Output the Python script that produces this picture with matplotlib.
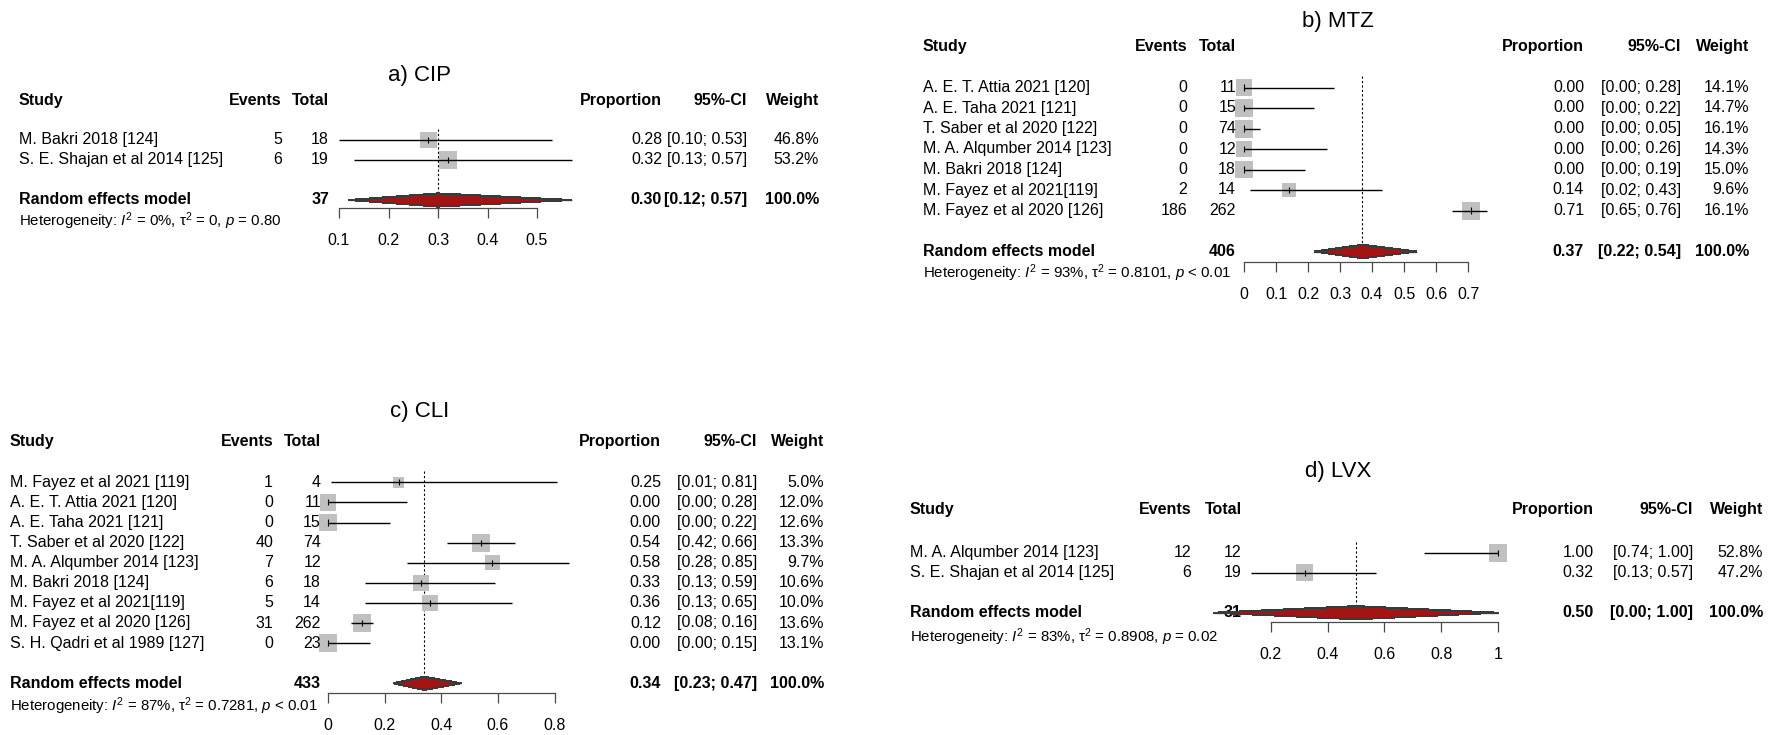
import numpy as np
import matplotlib
matplotlib.use("Agg")
import matplotlib.pyplot as plt
from matplotlib.patches import Polygon
from matplotlib.transforms import blended_transform_factory

# ---- data ----

# a) CIP
cip_studies = ["M. Bakri 2018 [124]", "S. E. Shajan et al 2014 [125]"]
cip_events = [5, 6]
cip_total = [18, 19]
cip_prop = [0.28, 0.32]
cip_lo = [0.10, 0.13]
cip_hi = [0.53, 0.57]
cip_weight = [46.8, 53.2]
cip_pooled = [37, 0.30, 0.12, 0.57]          # total, est, lo, hi
cip_het = ["0%", "0", "= 0.80"]              # I2, tau2, p

# b) MTZ
mtz_studies = ["A. E. T. Attia 2021 [120]", "A. E. Taha 2021 [121]",
               "T. Saber et al 2020 [122]", "M. A. Alqumber 2014 [123]",
               "M. Bakri 2018 [124]", "M. Fayez et al 2021[119]",
               "M. Fayez et al 2020 [126]"]
mtz_events = [0, 0, 0, 0, 0, 2, 186]
mtz_total = [11, 15, 74, 12, 18, 14, 262]
mtz_prop = [0.00, 0.00, 0.00, 0.00, 0.00, 0.14, 0.71]
mtz_lo = [0.00, 0.00, 0.00, 0.00, 0.00, 0.02, 0.65]
mtz_hi = [0.28, 0.22, 0.05, 0.26, 0.19, 0.43, 0.76]
mtz_weight = [14.1, 14.7, 16.1, 14.3, 15.0, 9.6, 16.1]
mtz_pooled = [406, 0.37, 0.22, 0.54]
mtz_het = ["93%", "0.8101", "< 0.01"]

# c) CLI
cli_studies = ["M. Fayez et al 2021 [119]", "A. E. T. Attia 2021 [120]",
               "A. E. Taha 2021 [121]", "T. Saber et al 2020 [122]",
               "M. A. Alqumber 2014 [123]", "M. Bakri 2018 [124]",
               "M. Fayez et al 2021[119]", "M. Fayez et al 2020 [126]",
               "S. H. Qadri et al 1989 [127]"]
cli_events = [1, 0, 0, 40, 7, 6, 5, 31, 0]
cli_total = [4, 11, 15, 74, 12, 18, 14, 262, 23]
cli_prop = [0.25, 0.00, 0.00, 0.54, 0.58, 0.33, 0.36, 0.12, 0.00]
cli_lo = [0.01, 0.00, 0.00, 0.42, 0.28, 0.13, 0.13, 0.08, 0.00]
cli_hi = [0.81, 0.28, 0.22, 0.66, 0.85, 0.59, 0.65, 0.16, 0.15]
cli_weight = [5.0, 12.0, 12.6, 13.3, 9.7, 10.6, 10.0, 13.6, 13.1]
cli_pooled = [433, 0.34, 0.23, 0.47]
cli_het = ["87%", "0.7281", "< 0.01"]

# d) LVX
lvx_studies = ["M. A. Alqumber 2014 [123]", "S. E. Shajan et al 2014 [125]"]
lvx_events = [12, 6]
lvx_total = [12, 19]
lvx_prop = [1.00, 0.32]
lvx_lo = [0.74, 0.13]
lvx_hi = [1.00, 0.57]
lvx_weight = [52.8, 47.2]
lvx_pooled = [31, 0.50, 0.00, 1.00]
lvx_het = ["83%", "0.8908", "= 0.02"]

# ---- figure setup ----
W, H = 1773, 735
plt.rcParams["font.family"] = ["Liberation Sans", "DejaVu Sans"]
plt.rcParams["mathtext.fontset"] = "custom"
plt.rcParams["mathtext.rm"] = "Liberation Sans"
plt.rcParams["mathtext.it"] = "Liberation Sans:italic"
plt.rcParams["mathtext.bf"] = "Liberation Sans:bold"

FS = 11.5
BOX = "#c0c0c0"
DIAMOND = "#a31515"
AXIS = "#4a4a4a"

fig = plt.figure(figsize=(W / 100, H / 100), dpi=100)


def forest(title, title_xy, studies, events, total, prop, lo, hi, weight,
           pooled, het, ticks, ticklabels, px_ticks, y0, pitch, cols,
           i_head, i_model, i_axis, i_het):
    # axes spans the tick range horizontally, rows are in index units
    x_lo_px, x_hi_px = px_ticks
    top_px = y0 + pitch * (-4)
    bot_px = y0 + pitch * (i_model + 3)
    ax = fig.add_axes([x_lo_px / W, 1 - bot_px / H,
                       (x_hi_px - x_lo_px) / W, (bot_px - top_px) / H])
    ax.set_xlim(ticks[0], ticks[-1])
    ax.set_ylim(i_model + 3, -4)
    ax.patch.set_visible(False)
    for s in ["left", "top", "right"]:
        ax.spines[s].set_visible(False)
    ax.spines["bottom"].set_position(("data", i_axis))
    ax.spines["bottom"].set_bounds(ticks[0], ticks[-1])
    ax.spines["bottom"].set_linewidth(0.9)
    ax.spines["bottom"].set_color(AXIS)
    ax.set_xticks(ticks)
    ax.set_xticklabels(ticklabels, fontsize=FS)
    ax.tick_params(axis="x", direction="out", length=7.2, width=0.9,
                   pad=11, color=AXIS)
    ax.set_yticks([])

    trans = blended_transform_factory(fig.transFigure, ax.transData)
    study_x, events_x, total_x, prop_x, ci_x, weight_x = cols

    def put(px, row, s, ha="right", bold=False, size=FS):
        ax.text(px / W, row, s, transform=trans, ha=ha, va="center",
                fontsize=size, fontweight="bold" if bold else "normal",
                clip_on=False)

    fig.text(title_xy[0] / W, 1 - title_xy[1] / H, title,
             ha="center", va="center", fontsize=16)

    # header
    put(study_x, i_head, "Study", ha="left", bold=True)
    put(events_x, i_head, "Events", bold=True)
    put(total_x, i_head, "Total", bold=True)
    put(prop_x, i_head, "Proportion", bold=True)
    put(ci_x, i_head, "95%-CI", bold=True)
    put(weight_x, i_head, "Weight", bold=True)

    rows = np.arange(len(studies))
    for r in rows:
        put(study_x, r, studies[r], ha="left")
        put(events_x, r, str(events[r]))
        put(total_x, r, str(total[r]))
        put(prop_x, r, "%.2f" % prop[r])
        put(ci_x, r, "[%.2f; %.2f]" % (lo[r], hi[r]))
        put(weight_x, r, "%.1f%%" % weight[r])

    # reference line at pooled estimate
    n_tot, est, plo, phi = pooled
    ax.vlines(est, -0.55, i_model - 0.3, colors="black", lw=0.8,
              linestyles=(0, (2, 2)), zorder=1, clip_on=False)

    # study boxes and CIs
    w = np.array(weight)
    side_pt = 18 * np.sqrt(w / w.max()) * 0.72
    ax.scatter(prop, rows, marker="s", s=side_pt ** 2, color=BOX,
               linewidths=0, zorder=2, clip_on=False)
    ax.hlines(rows, lo, hi, colors="black", lw=1.0, zorder=3, clip_on=False)
    ax.vlines(prop, rows - 0.15, rows + 0.15, colors="black", lw=0.8,
              zorder=3, clip_on=False)

    # pooled row
    put(study_x, i_model, "Random effects model", ha="left", bold=True)
    put(total_x, i_model, str(n_tot), bold=True)
    put(prop_x, i_model, "%.2f" % est, bold=True)
    put(ci_x, i_model, "[%.2f; %.2f]" % (plo, phi), bold=True)
    put(weight_x, i_model, "100.0%", bold=True)
    h = 0.33
    ax.hlines(i_model, plo, phi, colors="#707070", lw=1.0, zorder=4,
              clip_on=False)
    ax.add_patch(Polygon([(plo, i_model), (est, i_model - h),
                          (phi, i_model), (est, i_model + h)],
                         closed=True, facecolor=DIAMOND, edgecolor="#3a3a3a",
                         lw=0.7, zorder=5, clip_on=False, antialiased=False))

    i2, tau2, p = het
    put(study_x, i_het,
        r"Heterogeneity: $I^2$ = %s, $\mathrm{\tau}^2$ = %s, $p$ %s"
        % (i2, tau2, p), ha="left", size=10.8)
    return ax


forest("a) CIP", (420, 75), cip_studies, cip_events, cip_total, cip_prop,
       cip_lo, cip_hi, cip_weight, cip_pooled, cip_het,
       [0.1, 0.2, 0.3, 0.4, 0.5], ["0.1", "0.2", "0.3", "0.4", "0.5"],
       (339, 537), 140, 20, (19, 282, 329, 662, 747, 819),
       -1.97, 3, 3.4, 4.05)

forest("b) MTZ", (1338, 21), mtz_studies, mtz_events, mtz_total, mtz_prop,
       mtz_lo, mtz_hi, mtz_weight, mtz_pooled, mtz_het,
       [0, 0.1, 0.2, 0.3, 0.4, 0.5, 0.6, 0.7],
       ["0", "0.1", "0.2", "0.3", "0.4", "0.5", "0.6", "0.7"],
       (1244, 1468), 87.5, 20.5, (923, 1187, 1236, 1584, 1681, 1749),
       -2.0, 8, 8.51, 9.07)

forest("c) CLI", (420, 412), cli_studies, cli_events, cli_total, cli_prop,
       cli_lo, cli_hi, cli_weight, cli_pooled, cli_het,
       [0, 0.2, 0.4, 0.6, 0.8], ["0", "0.2", "0.4", "0.6", "0.8"],
       (328, 554.5), 482.3, 20.1, (10, 273, 321, 661, 757, 824),
       -2.02, 10, 10.47, 11.15)

forest("d) LVX", (1338, 472), lvx_studies, lvx_events, lvx_total, lvx_prop,
       lvx_lo, lvx_hi, lvx_weight, lvx_pooled, lvx_het,
       [0.2, 0.4, 0.6, 0.8, 1.0], ["0.2", "0.4", "0.6", "0.8", "1"],
       (1270.7, 1498), 552.7, 20, (910, 1191.5, 1241.6, 1593.6, 1693, 1763),
       -2.17, 3, 3.45, 4.23)

fig.savefig("out.png", dpi=100)
